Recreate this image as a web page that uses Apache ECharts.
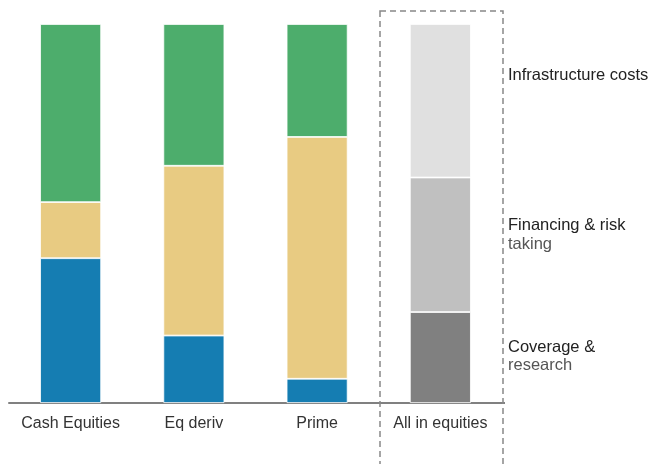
<!DOCTYPE html>
<html>
<head>
<meta charset="utf-8">
<script src="https://cdn.jsdelivr.net/npm/echarts@6/dist/echarts.min.js"></script>
<style>html,body{margin:0;padding:0;background:#fff}#c{width:650px;height:464px}</style>
</head>
<body>
<div id="c"></div>
<script>
const categories = ['Cash Equities', 'Eq deriv', 'Prime', 'All in equities'];
const coverage = [38.2, 17.8, 6.4, 24.0];
const financing = [14.8, 44.8, 63.8, 35.5];
const infrastructure = [47.0, 37.4, 29.8, 40.5];
const colorsMain = ['#157db2', '#e8cb82', '#4dad6c'];
const colorsAll = ['#808080', '#c0c0c0', '#e0e0e0'];
const seriesNames = ['Coverage & research', 'Financing & risk taking', 'Infrastructure costs'];
const seriesData = [coverage, financing, infrastructure];

const chart = echarts.init(document.getElementById('c'), null, {renderer: 'canvas'});
const series = seriesData.map((arr, si) => ({
  name: seriesNames[si],
  type: 'bar',
  stack: 'total',
  barWidth: 61,
  data: arr.map((v, i) => ({
    value: v,
    itemStyle: { color: i === categories.length - 1 ? colorsAll[si] : colorsMain[si] }
  })),
  itemStyle: { borderColor: '#ffffff', borderWidth: 0.8 },
  emphasis: { disabled: true }
}));

const font = 'Liberation Sans, Arial, sans-serif';
chart.setOption({
  animation: false,
  grid: { left: 9, right: 148, top: 24, bottom: 61 },
  xAxis: {
    type: 'category',
    data: categories,
    axisLine: { lineStyle: { color: '#808080', width: 2 } },
    axisTick: { show: false },
    axisLabel: { color: '#333', fontSize: 16, fontFamily: font, margin: 13, interval: 0, hideOverlap: false }
  },
  yAxis: { type: 'value', min: 0, max: 100, show: false },
  series: series,
  graphic: [
    { type: 'line', shape: { x1: 501, y1: 403, x2: 505, y2: 403 },
      style: { stroke: '#808080', lineWidth: 2 } },
    { type: 'rect', shape: { x: 380, y: 11, width: 123, height: 480 },
      style: { fill: 'none', stroke: '#888', lineWidth: 1.5, lineDash: [6, 4] }, z: 10 },
    { type: 'text', left: 508, top: 67, style: { text: 'Infrastructure costs', fill: '#222', font: '16.5px ' + font } },
    { type: 'text', left: 508, top: 217, style: { text: 'Financing & risk', fill: '#222', font: '16.5px ' + font } },
    { type: 'text', left: 508, top: 236, style: { text: 'taking', fill: '#555', font: '16.5px ' + font } },
    { type: 'text', left: 508, top: 339, style: { text: 'Coverage &', fill: '#222', font: '16.5px ' + font } },
    { type: 'text', left: 508, top: 357, style: { text: 'research', fill: '#555', font: '16.5px ' + font } }
  ]
});
</script>
</body>
</html>
